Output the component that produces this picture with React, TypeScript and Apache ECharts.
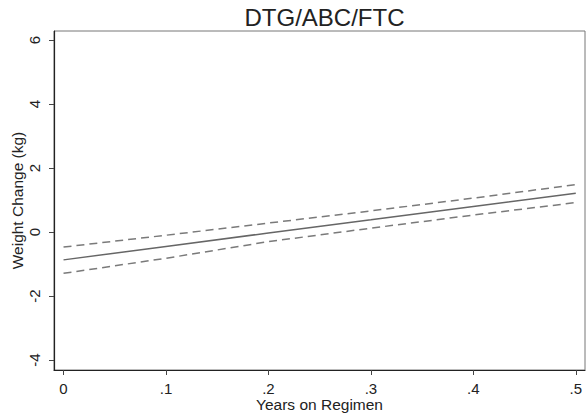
import React, { useEffect, useRef } from "react";
import * as echarts from "echarts";

const years = [0, 0.1, 0.2, 0.3, 0.4, 0.5];
const fitted = [-0.87, -0.45, -0.03, 0.38, 0.8, 1.21];
const upperCI = [-0.47, -0.1, 0.28, 0.66, 1.06, 1.48];
const lowerCI = [-1.29, -0.82, -0.3, 0.12, 0.53, 0.92];
const xTicks = [0, 0.1, 0.2, 0.3, 0.4, 0.5];
const yTicks = [-4, -2, 0, 2, 4, 6];

const fmtX = (v: number) => (v === 0 ? "0" : String(Math.round(v * 10) / 10).replace(/^0/, ""));

export default function App() {
  const ref = useRef<HTMLDivElement>(null);
  useEffect(() => {
    const chart = echarts.init(ref.current!, null, { renderer: "svg" });
    const font = "Liberation Sans, Arial, sans-serif";
    const mk = (ys: number[]) => years.map((x, i) => [x, ys[i]]);
    chart.setOption({
      animation: false,
      backgroundColor: "#fff",
      title: {
        text: "DTG/ABC/FTC",
        left: 319.5,
        textAlign: "center",
        top: 0,
        textStyle: { fontFamily: font, fontSize: 24, fontWeight: "normal", color: "#222" },
      },
      grid: {
        left: 54,
        right: 1,
        top: 31,
        bottom: 48,
        show: true,
        borderColor: "#777",
        borderWidth: 1,
        containLabel: false,
        outerBoundsMode: "none",
      },
      xAxis: {
        type: "value",
        min: -0.0093,
        max: 0.509,
        splitLine: { show: false },
        axisLine: { show: true, onZero: false, lineStyle: { color: "#222", width: 1.2 } },
        axisTick: { show: true, length: 5, customValues: xTicks, lineStyle: { color: "#444" } },
        axisLabel: {
          customValues: xTicks,
          formatter: (v: number) => fmtX(v),
          fontFamily: font,
          fontSize: 15,
          lineHeight: 15,
          color: "#222",
          margin: 11,
        },
        name: "Years on Regimen",
        nameLocation: "middle",
        nameGap: 27,
        nameMoveOverlap: false,
        nameTextStyle: { fontFamily: font, fontSize: 15.5, lineHeight: 15, color: "#222" },
      },
      yAxis: {
        type: "value",
        min: -4.31,
        max: 6.28,
        splitLine: { show: false },
        axisLine: { show: true, onZero: false, lineStyle: { color: "#222", width: 1.2 } },
        axisTick: { show: true, length: 5, customValues: yTicks, lineStyle: { color: "#444" } },
        axisLabel: {
          customValues: yTicks,
          rotate: 90,
          fontFamily: font,
          fontSize: 15,
          color: "#222",
          margin: 12,
        },
        name: "Weight Change (kg)",
        nameLocation: "middle",
        nameGap: 29,
        nameMoveOverlap: false,
        nameTextStyle: { fontFamily: font, fontSize: 15.5, color: "#222" },
      },
      series: [
        {
          type: "line",
          data: mk(fitted),
          showSymbol: false,
          lineStyle: { color: "#666", width: 1.5 },
        },
        {
          type: "line",
          data: mk(upperCI),
          showSymbol: false,
          lineStyle: { color: "#7a7a7a", width: 1.5, type: [8, 5] },
        },
        {
          type: "line",
          data: mk(lowerCI),
          showSymbol: false,
          lineStyle: { color: "#7a7a7a", width: 1.5, type: [8, 5] },
        },
      ],
    });
    return () => chart.dispose();
  }, []);
  return <div ref={ref} style={{ width: 586, height: 418, position: "absolute", left: 0, top: 0 }} />;
}
